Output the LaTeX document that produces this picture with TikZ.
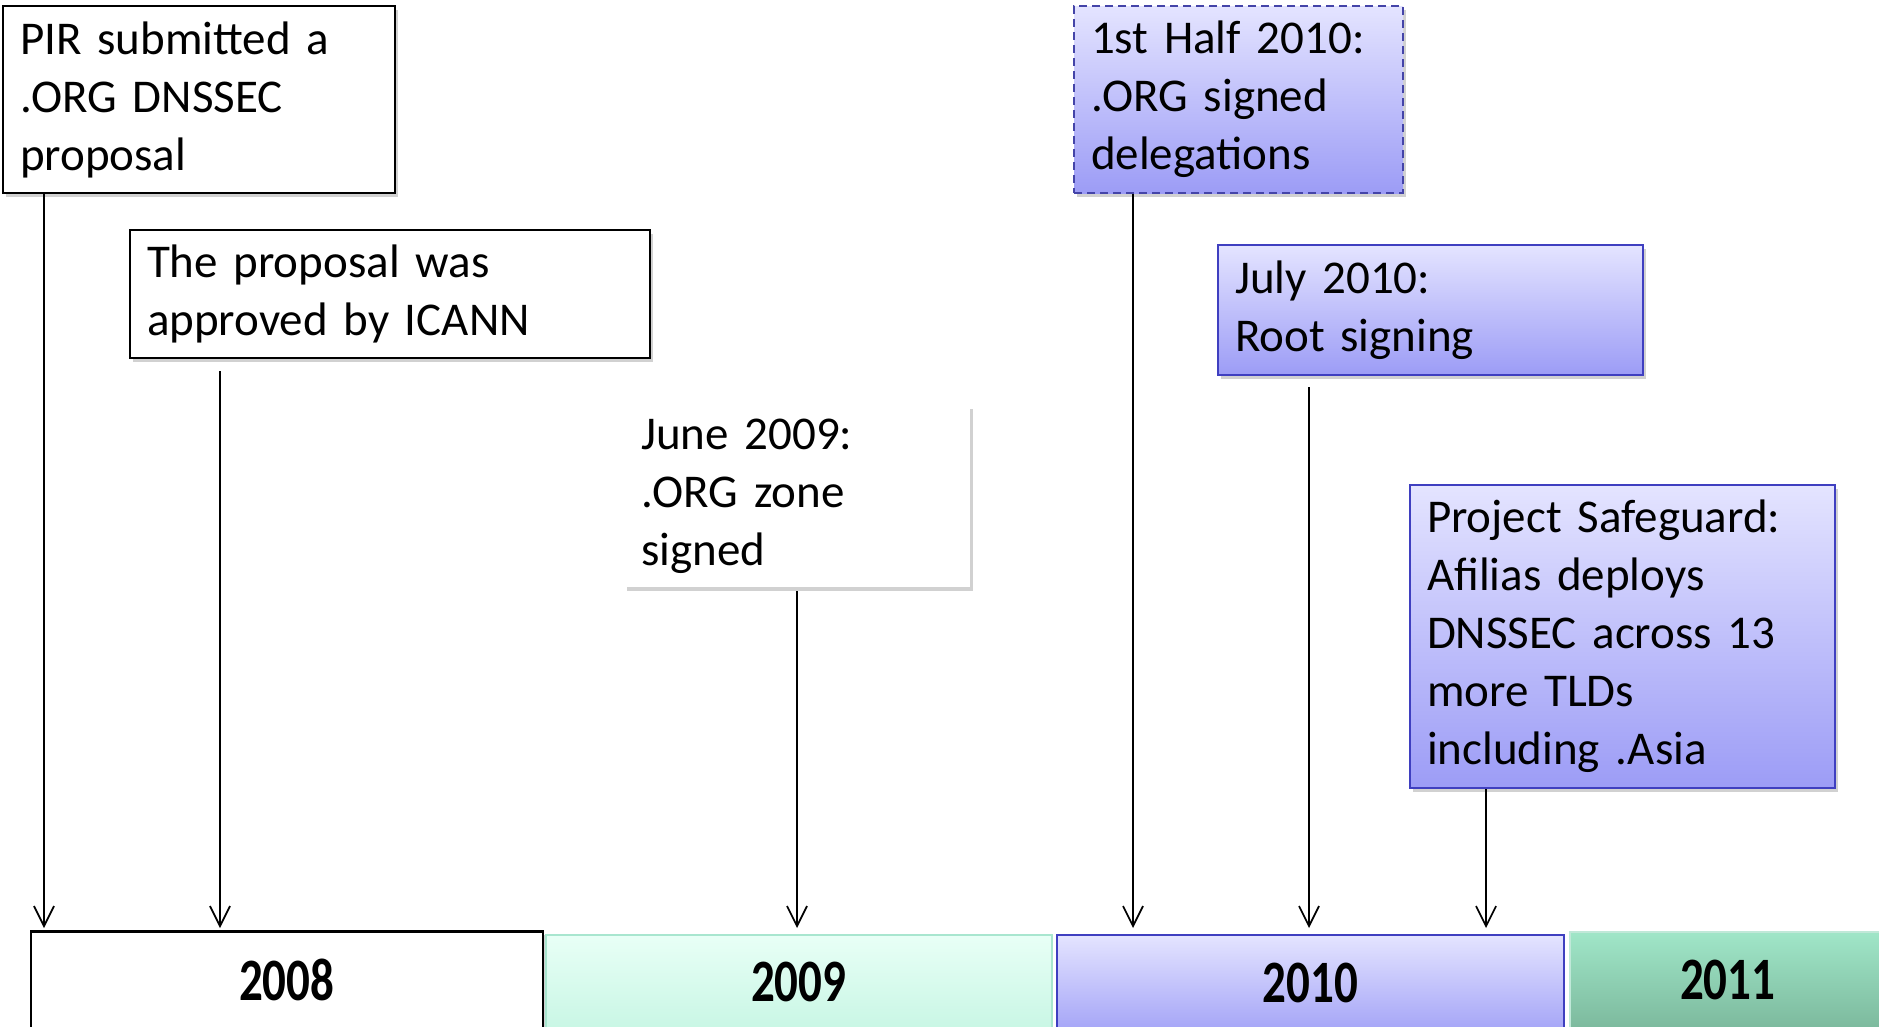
\documentclass[tikz,border=0pt]{standalone}
\usepackage{fontspec}
\setmainfont{Carlito}
\usetikzlibrary{arrows.meta,shadows}
\definecolor{lavtop}{HTML}{E4E4FF}
\definecolor{lavbot}{HTML}{9C9CF6}
\definecolor{blueedge}{HTML}{3F3FC0}
\definecolor{dashedge}{HTML}{4444A8}
\definecolor{minttop}{HTML}{E8FFF6}
\definecolor{mintbot}{HTML}{C4F5E2}
\definecolor{mintedge}{HTML}{A8E6CF}
\definecolor{greentop}{HTML}{A0E6C8}
\definecolor{greenbot}{HTML}{78B498}
\definecolor{greenedge}{HTML}{C0E8D8}
\begin{document}
\begin{tikzpicture}[x=1pt,y=-1pt,
  evt/.style={anchor=north west, align=left, inner xsep=17pt, inner ysep=0pt,
    font=\fontsize{47}{58}\selectfont,
    drop shadow={shadow xshift=3pt,shadow yshift=-4pt,fill=black,opacity=0.18}},
  plainbox/.style={evt, draw=black, line width=2pt, fill=white},
  nobox/.style={evt, fill=white},
  bluebox/.style={evt, draw=blueedge, line width=2pt, top color=lavtop, bottom color=lavbot},
  arr/.style={line width=1.7pt, -{Straight Barb[length=20pt,width=20pt,line width=1.7pt]}},
  yearbar/.style={anchor=north west, inner sep=0pt, minimum height=109pt},
  yearlab/.style={font=\fontsize{47}{50}\selectfont\bfseries, yshift=6pt}
]
\useasboundingbox (0,0) rectangle (1879,1026);

% event boxes
\node[plainbox, minimum width=392pt, minimum height=187pt, text width=358pt] (b1) at (2,5)
  {PIR submitted a\\.ORG DNSSEC\\proposal};
\node[plainbox, minimum width=520pt, minimum height=128pt, text width=486pt] (b2) at (129,229)
  {The proposal was\\approved by ICANN};
\node[nobox, minimum width=346pt, minimum height=182pt, text width=312pt] (b3) at (624,405)
  {June 2009:\\.ORG zone\\signed};
\node[bluebox, draw=dashedge, line width=2.2pt, dash pattern=on 8pt off 5pt, minimum width=329pt, minimum height=187pt, text width=295pt] (b4) at (1073,5)
  {1st Half 2010:\\.ORG signed\\delegations};
\node[bluebox, minimum width=425pt, minimum height=130pt, text width=391pt] (b5) at (1217,244)
  {July 2010:\\Root signing};
\node[bluebox, minimum width=425pt, minimum height=303pt, text width=391pt] (b6) at (1409,484)
  {Project Safeguard:\\Afilias deploys\\DNSSEC across 13\\more TLDs\\including .Asia};

% year bars
\node[yearbar, draw=black, line width=1.5pt, fill=white, minimum width=512pt,
  drop shadow={shadow xshift=3pt,shadow yshift=-3pt,fill=black,opacity=0.18},
  label={[yearlab]center:\scalebox{1}[1.28]{2008}}] (y8) at (30,931) {};
\draw[line width=3pt] (y8.north west) -- (y8.north east);
\node[yearbar, draw=mintedge, line width=1.5pt, top color=minttop, bottom color=mintbot, minimum width=506pt,
  label={[yearlab, yshift=1pt]center:\scalebox{1}[1.28]{2009}}] (y9) at (545,934) {};
\node[yearbar, draw=blueedge, line width=2pt, top color=lavtop, bottom color=lavbot, minimum width=507pt,
  label={[yearlab, yshift=1pt]center:\scalebox{1}[1.28]{2010}}] (y10) at (1056,934) {};
\node[yearbar, draw=greenedge, line width=1.5pt, top color=greentop, bottom color=greenbot, minimum width=316pt,
  label={[yearlab]center:\scalebox{1}[1.28]{2011}}] (y11) at (1569,931) {};

% arrow tips
\coordinate (t1) at (44,928);
\coordinate (t2) at (220,928);
\coordinate (t3) at (797,928);
\coordinate (t4) at (1133,928);
\coordinate (t5) at (1309,928);
\coordinate (t6) at (1486,928);
\coordinate (s2) at ([yshift=-12pt]b2.south);
\coordinate (s5) at ([yshift=-11pt]b5.south);

\draw[arr] (b1.south -| t1) -- (t1);
\draw[arr] (s2 -| t2) -- (t2);
\draw[arr] ([yshift=-4pt]b3.south -| t3) -- (t3);
\draw[arr] (b4.south -| t4) -- (t4);
\draw[arr] (s5 -| t5) -- (t5);
\draw[arr] (b6.south -| t6) -- (t6);
\end{tikzpicture}
\end{document}
